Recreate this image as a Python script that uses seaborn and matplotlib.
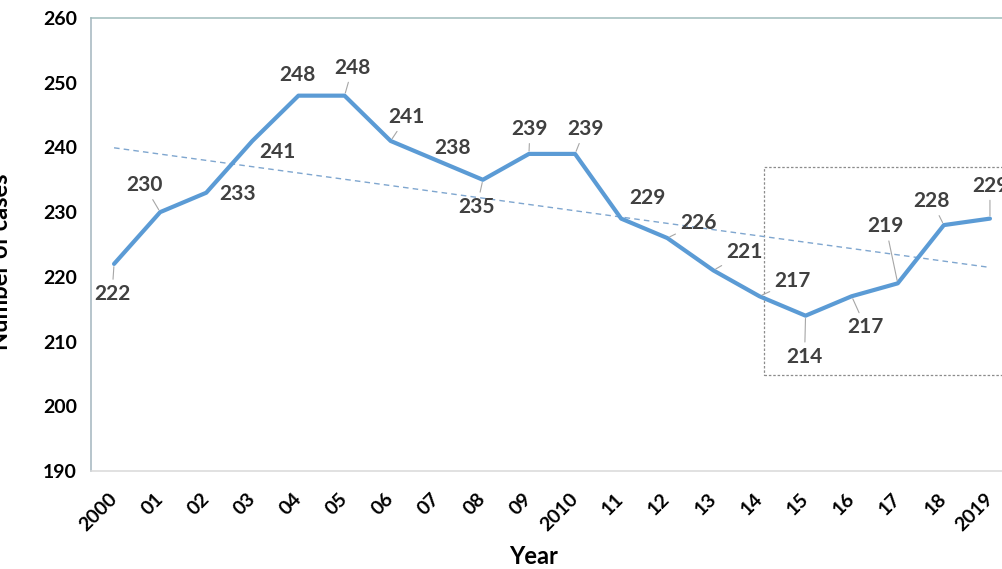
import numpy as np
import pandas as pd
import matplotlib.pyplot as plt
import matplotlib.patches as mpatches
import seaborn as sns

# data
years = ["2000", "01", "02", "03", "04", "05", "06", "07", "08", "09",
         "2010", "11", "12", "13", "14", "15", "16", "17", "18", "2019"]
cases = [222, 230, 233, 241, 248, 248, 241, 238, 235, 239,
         239, 229, 226, 221, 217, 214, 217, 219, 228, 229]

# label offsets in pixels (dx right, dy up) and whether a leader line shows
label_dx = [-2, -16, 31, 25, -1, 8, 16, 16, -6, 1, 10, 26, 31, 31, 33, -1, 14, -12, -12, 0]
label_dy = [-30, 27, -1, -11, 21, 28, 24, 12, -27, 25, 25, 21, 15, 18, 15, -41, -31, 57, 24, 33]
leader = [1, 1, 0, 0, 0, 1, 1, 0, 1, 1, 1, 0, 1, 1, 1, 1, 1, 1, 1, 1]

df = pd.DataFrame({"pos": np.arange(len(years)), "cases": cases})

sns.set_theme(style="white")
plt.rcParams["font.family"] = ["Lato", "DejaVu Sans"]

fig = plt.figure(figsize=(10.03, 5.69), dpi=100)
ax = fig.add_axes([91 / 1003, 98 / 569, 922 / 1003, 453 / 569])

# linear trend (dashed)
sns.regplot(data=df, x="pos", y="cases", scatter=False, ci=None, ax=ax,
            line_kws=dict(color="#7fa6cf", lw=1.0, ls=(0, (4, 3))))
# main series
sns.lineplot(data=df, x="pos", y="cases", ax=ax, color="#5b9bd5", lw=3.0)

for i, v in enumerate(cases):
    arrow = dict(arrowstyle="-", color="#a6a6a6", lw=0.8, shrinkA=1, shrinkB=2) if leader[i] else None
    ax.annotate(str(v), xy=(i, v), xytext=(label_dx[i], label_dy[i]),
                textcoords="offset pixels", ha="center", va="center",
                fontsize=15, fontweight="bold", color="#404040",
                arrowprops=arrow)

# dashed highlight box around the recent years
box = mpatches.Rectangle((14.1, 204.8), 6.0, 32.1, fill=False, ec="#8c8c8c",
                         lw=0.9, ls=(0, (2, 1.5)), clip_on=False)
ax.add_patch(box)

ax.set_xlim(-0.5, 19.5)
ax.set_ylim(190, 260)
ax.set_yticks(range(190, 261, 10))
ax.set_xticks(df["pos"])
ax.set_xticklabels(years, rotation=45, ha="right", va="center",
                   rotation_mode="anchor", fontsize=14, fontweight="bold")
for lab in ax.get_yticklabels():
    lab.set_fontsize(14)
    lab.set_fontweight("bold")
ax.tick_params(axis="x", length=0, pad=18, colors="black")
ax.tick_params(axis="y", length=0, pad=10, colors="black")

ax.set_xlabel("Year", fontsize=17, fontweight="bold", color="black")
ax.xaxis.set_label_coords(0.4805, -0.163)
ax.set_ylabel("Number of cases", fontsize=17, fontweight="bold", color="black")
ax.yaxis.set_label_coords(-0.086, 0.461)

ax.spines["left"].set_color("#a3b5bf")
ax.spines["top"].set_color("#9fbcbc")
ax.spines["bottom"].set_color("#d9d9d9")
ax.spines["right"].set_color("#d9d9d9")
for s in ax.spines.values():
    s.set_linewidth(1.1)

fig.savefig("out.png", dpi=100)
